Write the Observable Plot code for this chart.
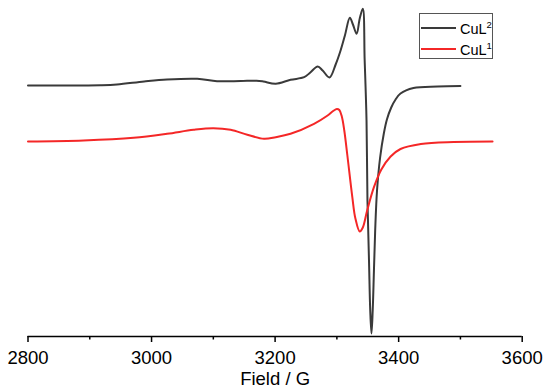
<!DOCTYPE html>
<html>
<head>
<meta charset="utf-8">
<script src="https://cdn.jsdelivr.net/npm/d3@7"></script>
<script src="https://cdn.jsdelivr.net/npm/@observablehq/plot@0.6"></script>
<style>
  html, body { margin: 0; padding: 0; background: #fff; }
  #wrap { position: relative; width: 550px; height: 391px; font-family: "Liberation Sans", Arial, sans-serif; }
  #legend { position: absolute; left: 419px; top: 13px; width: 74px; height: 46px; border: 1px solid #555; background: #fff; box-sizing: border-box; }
  .row { position: absolute; left: 0; height: 20px; display: flex; align-items: center; }
  .sw { width: 35px; height: 2px; margin-left: 1px; }
  .lab { margin-left: 4px; font-size: 14.5px; color: #000; line-height: 1; }
  .lab sup { font-size: 9.5px; vertical-align: 6px; }
</style>
</head>
<body>
<div id="wrap">
  <div id="chart"></div>
  <div id="legend">
    <div class="row" style="top:4px"><div class="sw" style="background:#3a3a3a"></div><div class="lab">CuL<sup>2</sup></div></div>
    <div class="row" style="top:25px"><div class="sw" style="background:#f42727"></div><div class="lab">CuL<sup>1</sup></div></div>
  </div>
</div>
<script>
// Field (G) and intensity (arb. units, offset included) for CuL2 (black)
const fieldL2 = [2800, 2853, 2917, 2944, 2988, 3025, 3074, 3106, 3144, 3170, 3181, 3201, 3225, 3247, 3257, 3269, 3277, 3288, 3298, 3306, 3313, 3321, 3326, 3332, 3337, 3342, 3345, 3348, 3349.5, 3352, 3354, 3356, 3358, 3360, 3362, 3365, 3370, 3376, 3381, 3388, 3395, 3403, 3424, 3463, 3500];
const intL2 = [0, 0, 0.3, 1, 4, 6, 6.7, 4.3, 4.5, 4.8, 4, 1.7, 5.7, 8.3, 13, 19, 15, 8, 21, 35, 50, 67.7, 61, 51.7, 67, 76.7, 25, -35, -115, -175, -225, -248, -225, -185, -145, -105, -72, -48, -34, -22, -14, -8, -2.5, -1, -0.5];

// Field (G) and intensity (arb. units, offset included) for CuL1 (red)
const fieldL1 = [2800, 2890, 2971, 3025, 3068, 3100, 3128, 3155, 3182, 3201, 3225, 3263, 3285, 3294, 3300, 3304, 3308, 3312, 3317, 3325, 3330, 3337, 3342, 3349, 3360, 3372, 3387, 3403, 3436, 3489, 3552];
const intL1 = [-56, -55, -52.3, -48.3, -44.3, -42.7, -44.3, -49.3, -53.3, -51.7, -48.3, -38.3, -30, -25.5, -23.5, -24.5, -31, -45, -70, -111.7, -133, -146, -142, -125, -101.7, -84, -71, -63.5, -58.5, -56.5, -56];

const xTicks = [2800, 3000, 3200, 3400, 3600];
const xMinorTicks = [2900, 3100, 3300, 3500];

const l2 = fieldL2.map((f, i) => ({field: f, v: intL2[i]}));
const l1 = fieldL1.map((f, i) => ({field: f, v: intL1[i]}));

const chart = Plot.plot({
  width: 550,
  height: 391,
  marginLeft: 27.5,
  marginRight: 28.3,
  marginTop: 5,
  marginBottom: 55,
  style: {fontFamily: "'Liberation Sans', Arial, sans-serif", fontSize: "18.5px", color: "#000", background: "#fff"},
  x: {domain: [2800, 3600]},
  y: {domain: [-251, 80], axis: null},
  marks: [
    Plot.ruleY([-251], {stroke: "#000", strokeWidth: 1.5}),
    Plot.axisX({ticks: xTicks, tickSize: 6, tickPadding: 8, tickFormat: d => String(d), stroke: "#000", strokeWidth: 1.5,
      label: "Field / G", labelAnchor: "center", labelArrow: "none", labelOffset: 48, fontSize: 18.5}),
    Plot.axisX({ticks: xMinorTicks, tickSize: 3.5, tickFormat: () => "", label: null, stroke: "#000", strokeWidth: 1.5}),
    Plot.line(l2, {x: "field", y: "v", stroke: "#3a3a3a", strokeWidth: 2, curve: "catmull-rom"}),
    Plot.line(l1, {x: "field", y: "v", stroke: "#f42727", strokeWidth: 2, curve: "catmull-rom"})
  ]
});
document.getElementById("chart").appendChild(chart);
</script>
</body>
</html>
